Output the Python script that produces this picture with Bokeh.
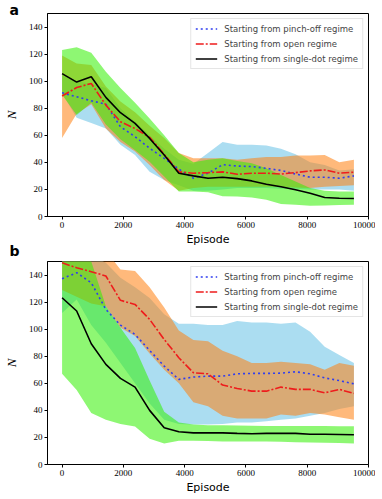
from bokeh.plotting import figure
from bokeh.layouts import column
from bokeh.models import Range1d, Legend, LegendItem, Title, FixedTicker
from bokeh.embed import file_html
from bokeh.resources import INLINE

episodes = [0, 476, 952, 1429, 1905, 2381, 2857, 3333, 3810, 4286, 4762,
            5238, 5714, 6190, 6667, 7143, 7619, 8095, 8571, 9048, 9524]

labels = ["Starting from pinch-off regime",
          "Starting from open regime",
          "Starting from single-dot regime"]

x_ticks = [0, 2000, 4000, 6000, 8000, 10000]
y_ticks = [0, 20, 40, 60, 80, 100, 120, 140]

# ---- panel a ----
a_pinch_mean = [91.4, 88.5, 85.5, 83, 66.3, 59, 50.4, 43, 35, 28.3, 32, 38.3, 37.3, 36.9, 35.6, 34, 31.4, 29, 29, 28.3, 30]
a_pinch_low = [91, 73, 69, 65, 53, 45.5, 33, 27, 23, 19, 19, 20, 21, 21, 21, 20.5, 20.5, 20, 20, 20, 19]
a_pinch_high = [105, 100, 98, 95, 80, 70, 60, 50, 42, 39, 47, 55, 53, 53, 52.5, 50, 46, 40, 38, 34, 35]

a_open_mean = [89, 95.3, 98.3, 82.3, 70, 65, 58.5, 46, 33, 32, 32.4, 33, 31.2, 32, 32, 31.4, 32.4, 33.7, 34.4, 32, 32.7]
a_open_low = [58, 76, 83, 65, 55, 48, 38, 27, 19, 21, 22, 22, 22, 22, 22, 22, 21.5, 21, 22, 22.5, 23]
a_open_high = [119, 113, 112, 96, 85, 77, 67, 58, 47, 43, 43, 43, 42, 43, 44, 44, 45, 45, 45.5, 40, 42]

a_dot_mean = [105.6, 99.3, 103.2, 88, 76.7, 68.8, 57.7, 45.5, 32, 30, 28.3, 29, 28, 26.3, 23.8, 22, 19.7, 17.2, 14, 13.5, 13.3]
a_dot_low = [90, 75, 84, 68, 57, 49, 40.5, 29.5, 18.4, 18.4, 18, 15, 14.7, 14, 12.3, 9.3, 8.6, 7.9, 8.2, 8.5, 8.6]
a_dot_high = [123, 125, 121, 107, 95, 84, 72.5, 60, 47, 40, 42, 43, 41, 39.3, 35.6, 30.7, 25.8, 21, 19, 18.5, 18.5]

# ---- panel b ----
b_pinch_mean = [137.3, 141.7, 134.3, 114.6, 103, 96.1, 84.3, 72.7, 62.9, 64.6, 65.3, 65.3, 67, 67.3, 67.3, 67.5, 68.5, 67, 64, 62, 59.6]
b_pinch_low = [112, 122, 103, 90, 75, 60, 45, 33, 30, 29.5, 29.5, 30, 31, 31, 32, 33, 34, 36, 38, 41, 43]
b_pinch_high = [155, 158, 155, 149, 138, 131, 123, 111, 104, 104, 103, 103, 106, 105, 105, 104, 105, 98, 87, 81, 75]

b_open_mean = [149, 145.4, 142.5, 139.3, 121.3, 118.3, 107.2, 92.4, 78.9, 67.8, 67, 58.7, 56.2, 54.2, 54.2, 57.2, 55.5, 55.5, 53, 55.5, 52.5]
b_open_low = [129, 124, 119, 117, 101, 95, 82, 70, 60, 46, 43, 36, 34, 34, 34, 37, 36, 38, 37, 35, 33]
b_open_high = [165, 165, 165, 158, 144, 143, 131, 116, 99, 92, 91, 84, 80, 75, 75, 76, 75, 74, 70, 75, 73]

b_dot_mean = [123.2, 113.4, 89.2, 74, 63.6, 57.2, 40, 27.1, 24.2, 23.4, 23.4, 23.4, 23, 22.7, 23, 23, 23, 22.4, 22.4, 22.2, 22]
b_dot_low = [67, 55, 38, 33, 30, 28, 19, 15.5, 17.5, 17.5, 17.3, 17, 17, 17, 17, 16.8, 16.5, 16.3, 16, 15.8, 15.5]
b_dot_high = [160, 160, 150, 117, 101, 86, 62, 39, 31, 29.6, 29, 29, 28.8, 28.6, 28.5, 28.5, 28.5, 28.4, 28.4, 28.3, 28.3]

BAND_COLORS = ["#87ceeb", "#ff7f0e", "#32f000"]
BAND_ALPHAS = [0.7, 0.55, 0.55]
LINE_COLORS = ["#2e3cf0", "#ee1c1c", "#000000"]
LINE_DASHES = ["2 3", "8 2 2 2", "solid"]

SERIF = "Liberation Serif"
SANS = "DejaVu Sans"


def make_panel(series, border_top, border_bottom):
    p = figure(frame_width=321, frame_height=203, output_backend="svg",
               toolbar_location=None,
               x_range=Range1d(-476, 10000), y_range=Range1d(0, 150),
               min_border_left=38, min_border_right=7, min_border_top=border_top,
               min_border_bottom=border_bottom)
    p.grid.visible = False
    p.outline_line_color = "black"
    p.outline_line_width = 1
    p.background_fill_color = "white"
    p.border_fill_color = "white"

    for ax in (p.xaxis[0], p.yaxis[0]):
        ax.major_tick_in = 0
        ax.major_tick_out = 3
        ax.minor_tick_line_color = None
        ax.axis_line_color = "black"
        ax.major_tick_line_color = "black"
        ax.major_label_text_font = SERIF
        ax.major_label_text_font_size = "9px"
        ax.major_label_text_color = "black"
        ax.major_label_standoff = 2
        ax.axis_label_text_color = "black"
    p.xaxis.ticker = FixedTicker(ticks=x_ticks)
    p.yaxis.ticker = FixedTicker(ticks=y_ticks)
    p.xaxis.axis_label = "Episode"
    p.xaxis.axis_label_text_font = SANS
    p.xaxis.axis_label_text_font_size = "11px"
    p.xaxis.axis_label_text_font_style = "normal"
    p.xaxis.axis_label_standoff = 2
    p.yaxis.axis_label = "N"
    p.yaxis.axis_label_text_font = SERIF
    p.yaxis.axis_label_text_font_size = "13px"
    p.yaxis.axis_label_text_font_style = "italic"
    p.yaxis.axis_label_standoff = 7

    for i, (mean, low, high) in enumerate(series):
        p.varea(x=episodes, y1=low, y2=high, fill_color=BAND_COLORS[i],
                fill_alpha=BAND_ALPHAS[i])
    items = []
    for i, (mean, low, high) in enumerate(series):
        r = p.line(episodes, mean, line_color=LINE_COLORS[i], line_width=1.6,
                   line_dash=LINE_DASHES[i])
        items.append(LegendItem(label=labels[i], renderers=[r]))

    legend = Legend(items=items, location="top_right")
    legend.label_text_font = SANS
    legend.label_text_font_size = "8.5px"
    legend.glyph_width = 22
    legend.glyph_height = 11
    legend.label_height = 11
    legend.label_standoff = 7
    legend.spacing = 4
    legend.padding = 4
    legend.margin = 5
    legend.border_line_color = "#cccccc"
    legend.border_line_width = 1
    legend.background_fill_alpha = 0.8
    p.add_layout(legend)
    return p


def letter_title(letter, standoff, valign):
    return Title(text=letter, align="left", offset=-38, standoff=standoff,
                 vertical_align=valign,
                 text_font=SANS, text_font_size="14px", text_font_style="bold",
                 text_color="black")


pa = make_panel([(a_pinch_mean, a_pinch_low, a_pinch_high),
                 (a_open_mean, a_open_low, a_open_high),
                 (a_dot_mean, a_dot_low, a_dot_high)], 13, 41)
pb = make_panel([(b_pinch_mean, b_pinch_low, b_pinch_high),
                 (b_open_mean, b_open_low, b_open_high),
                 (b_dot_mean, b_dot_low, b_dot_high)], 4, 35)

pa.add_layout(letter_title("a", -13, "top"), "above")
pa.add_layout(letter_title("b", -20, "bottom"), "below")

layout = column(pa, pb, spacing=0)
open("out.html", "w").write(file_html(layout, INLINE))
